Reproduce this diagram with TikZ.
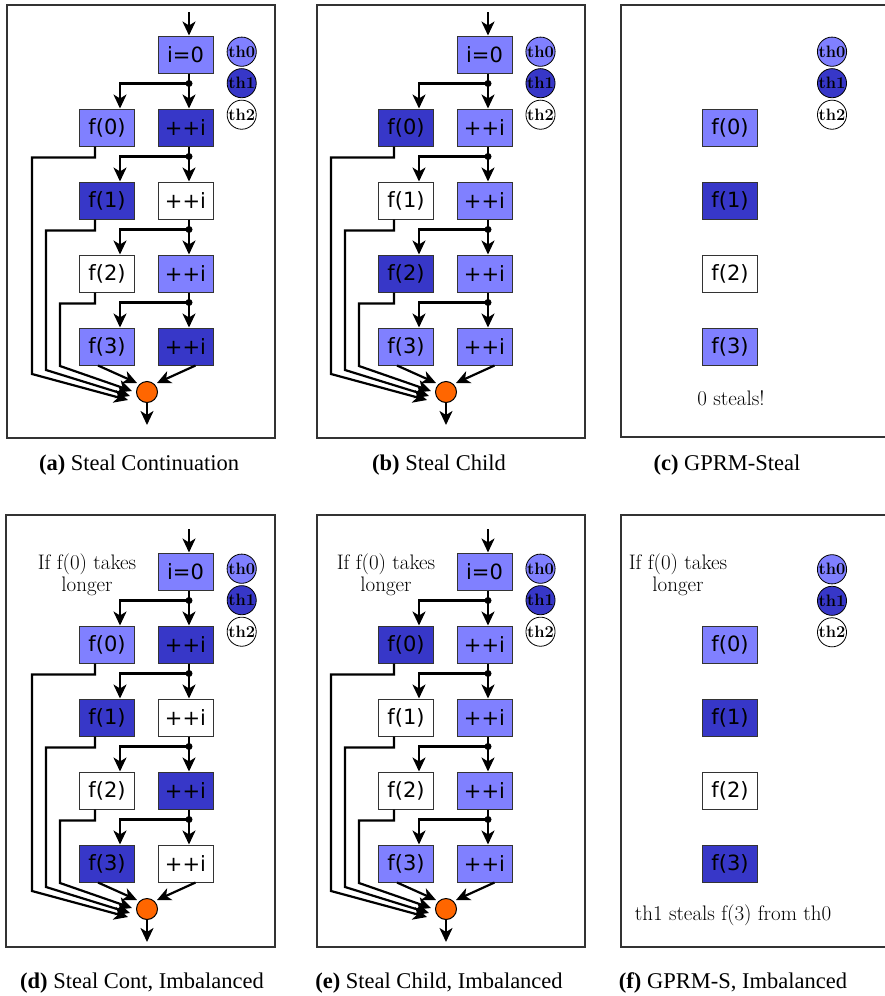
\documentclass[tikz,border=0pt]{standalone}
\usepackage{fontspec}
\newfontfamily\boxfont{DejaVu Sans}
\newfontfamily\capfont{Liberation Serif}
\usetikzlibrary{calc,arrows.meta}
\definecolor{lite}{HTML}{8080FF}
\definecolor{dark}{HTML}{3737C8}
\definecolor{joinc}{HTML}{FF6600}
\definecolor{edge}{HTML}{333333}
\tikzset{
 taskbox/.style={draw=edge,line width=1pt,minimum width=55pt,minimum height=37pt,inner sep=0pt,font=\boxfont\fontsize{21}{21}\selectfont},
 thc/.style={circle,draw=black,line width=0.8pt,minimum size=28pt,inner sep=0pt,font=\bfseries\fontsize{16.5}{16.5}\selectfont},
 flow/.style={line width=2.2pt,-{Stealth[length=14pt,width=13pt,inset=4pt]}},
 wire/.style={line width=2.2pt},
 dotc/.style={circle,fill=black,inner sep=0pt,minimum size=7pt},
 joinnode/.style={circle,fill=joinc,draw=black,line width=1pt,minimum size=21pt,inner sep=0pt},
 panelframe/.style={draw=edge,line width=1.5pt},
 note/.style={font=\fontsize{21}{22}\selectfont,align=center,inner sep=0pt},
 caption/.style={font=\capfont\fontsize{22.5}{22.5}\selectfont,inner sep=0pt}
}
\newcommand{\threadkey}[3]{%
 \node[thc,fill=lite] (#1t0) at (#2,#3) {th0};
 \node[thc,fill=dark] (#1t1) at ($(#1t0)+(0,31.5)$) {th1};
 \node[thc,fill=white] (#1t2) at ($(#1t1)+(0,31.5)$) {th2};
}
\newcommand{\flowpanel}[4]{%
 \coordinate (#1in) at (#2+189,#3+12);
 \node[taskbox,fill=lite] (#1i0) at (#2+185.5,#3+54.5) {i=0};
 \draw[flow] (#1in) -- (#1in |- #1i0.north);
 \foreach \fc/\ic [count=\k from 0] in {#4} {
   \pgfmathsetmacro\cy{#3+127.5+73*\k}
   \node[taskbox,fill=\fc] (#1f\k) at (#2+107,\cy) {f(\k)};
   \node[taskbox,fill=\ic] (#1p\k) at (#2+185.5,\cy) {++i};
   \node[dotc] (#1d\k) at ($(#1p\k.north)+(3.5,-25)$) {};
   \draw[flow] (#1d\k.center) -- (#1d\k.center |- #1p\k.north);
   \draw[flow] (#1d\k.center) -| ($(#1f\k.north)+(13,0)$);
   \ifnum\k=0
     \draw[wire] (#1i0.south -| #1d\k) -- (#1d\k.center);
   \else
     \pgfmathtruncatemacro\pk{\k-1}
     \draw[wire] (#1p\pk.south -| #1d\k) -- (#1d\k.center);
   \fi
 }
 \node[joinnode] (#1j) at (#2+147,#3+392) {};
 \coordinate (#1out) at (#2+147,#3+425);
 \draw[flow] (#1j) -- (#1out);
 \foreach \k/\tx/\ty in {0/-19/8,1/-17/4,2/-15/-1} {
   \pgfmathsetmacro\lx{#2+32+14*\k}
   \pgfmathsetmacro\ly{#3+374-4*\k}
   \draw[flow] ($(#1f\k.south)+(-12,0)$) -- ++(0,11) -| (\lx,\ly) -- ($(#1j.center)+(\tx,\ty)$);
 }
 \draw[flow] ($(#1f3.south)+(-9,0)$) -- ($(#1j.center)+(-10,-9)$);
 \draw[flow] ($(#1p3.south)+(10,0)$) -- ($(#1j.center)+(10,-9)$);
}
\begin{document}
\begin{tikzpicture}[x=1pt,y=-1pt]
\useasboundingbox (0,0) rectangle (885,996);
% frames
\draw[panelframe] (7,5) rectangle (275,438);
\draw[panelframe] (317,5) rectangle (585,438);
\draw[panelframe] (621,5) rectangle (892,437);
\draw[panelframe] (6,515) rectangle (275,947);
\draw[panelframe] (317,515) rectangle (585,947);
\draw[panelframe] (621,515) rectangle (892,947);
% graph panels
\flowpanel{a}{0}{0}{lite/dark,dark/white,white/lite,lite/dark}
\flowpanel{b}{299}{0}{dark/lite,white/lite,dark/lite,lite/lite}
\flowpanel{d}{0}{517}{lite/dark,dark/white,white/dark,dark/white}
\flowpanel{e}{299}{517}{dark/lite,white/lite,white/lite,lite/lite}
% thread keys
\threadkey{a}{241.7}{51.7}
\threadkey{b}{540.5}{51.7}
\threadkey{c}{832}{51.7}
\threadkey{d}{241.7}{568.7}
\threadkey{e}{540.5}{568.7}
\threadkey{f}{832}{569.3}
% panel c
\node[taskbox,fill=lite] (cf0) at (730,127.5) {f(0)};
\node[taskbox,fill=dark] (cf1) at (730,200.5) {f(1)};
\node[taskbox,fill=white] (cf2) at (730,273.5) {f(2)};
\node[taskbox,fill=lite] (cf3) at (730,346.5) {f(3)};
\node[note] (csteals) at (731,398) {0 steals!};
% panel f
\node[taskbox,fill=lite] (ff0) at (730,645) {f(0)};
\node[taskbox,fill=dark] (ff1) at (730,718) {f(1)};
\node[taskbox,fill=white] (ff2) at (730,791) {f(2)};
\node[taskbox,fill=dark] (ff3) at (730,864) {f(3)};
\node[note] (fsteals) at (733,915) {th1 steals f(3) from th0};
% notes
\node[note] (dnote) at (87,574.5) {If f(0) takes\\longer};
\node[note] (enote) at (386,574.5) {If f(0) takes\\longer};
\node[note] (fnote) at (678,574.5) {If f(0) takes\\longer};
% captions
\node[caption] (capa) at (139,465) {\textbf{(a)} Steal Continuation};
\node[caption] (capb) at (439,465) {\textbf{(b)} Steal Child};
\node[caption] (capc) at (727,465) {\textbf{(c)} GPRM-Steal};
\node[caption] (capd) at (142,983) {\textbf{(d)} Steal Cont, Imbalanced};
\node[caption] (cape) at (439,983) {\textbf{(e)} Steal Child, Imbalanced};
\node[caption] (capf) at (733,983) {\textbf{(f)} GPRM-S, Imbalanced};
\end{tikzpicture}
\end{document}
